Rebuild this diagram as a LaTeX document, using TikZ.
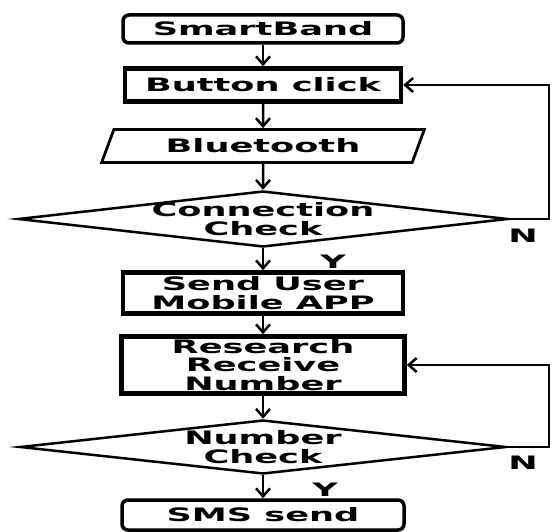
\documentclass[tikz,border=0pt]{standalone}
\usepackage{fontspec}
\usepackage{tikz}
\usetikzlibrary{shapes.geometric}
\usetikzlibrary{arrows.meta}
\newfontface\flowfont{DejaVu Sans Bold}[FakeStretch=1.9]

\tikzset{
	txt/.style={font=\fontsize{18.5}{18.5}\selectfont\flowfont, align=center},
	stepbox/.style={draw, txt, line width=4.5pt, inner sep=0pt},
	endbox/.style={draw, txt, line width=3.5pt, rounded corners=6pt, inner sep=0pt},
	iobox/.style={draw, txt, trapezium, trapezium left angle=61, trapezium right angle=119,
		trapezium stretches=true, line width=2.8pt, inner sep=0pt},
	decision/.style={draw, diamond, line width=2.5pt, inner sep=0pt},
	flow/.style={line width=2.5pt, -{Straight Barb[length=8pt,width=14pt]}},
}

\begin{document}
\begin{tikzpicture}[x=1pt, y=-1pt]
\useasboundingbox (0,0) rectangle (552,532);

% main column
\node[endbox, minimum width=280pt, minimum height=28pt] (smart) at (263,29) {SmartBand};
\node[stepbox, minimum width=276pt, minimum height=33pt] (button) at (263,85) {Button click};
\node[iobox, minimum width=323pt, minimum height=33pt] (blue) at (263,146) {Bluetooth};
\node[decision, minimum width=490pt, minimum height=56pt] (conn) at (263,219) {};
\node[txt] (conntext) at (conn) {Connection\\Check};
\node[stepbox, minimum width=280pt, minimum height=41pt] (send) at (263,293) {Send User\\Mobile APP};
\node[stepbox, minimum width=283pt, minimum height=57pt] (research) at (263,365) {Research\\Receive\\Number};
\node[decision, minimum width=486pt, minimum height=54pt] (num) at (263,447) {};
\node[txt] (numtext) at (num) {Number\\Check};
\node[endbox, minimum width=282pt, minimum height=30pt] (sms) at (263,515) {SMS send};

\draw[flow] (smart.south) -- (button.north);
\draw[flow] (button.south) -- (blue.north);
\draw[flow] (blue.south) -- (conn.north);
\draw[flow] (conn.south) -- (send.north);
\draw[flow] (send.south) -- (research.north);
\draw[flow] (research.south) -- (num.north);
\draw[flow] (num.south) -- (sms.north);

% N branches go back up on the right
\coordinate (rail) at (549,0);
\draw[flow] (conn.east) -- (conn.east -| rail) |- (button.east);
\draw[flow] (num.east) -- (num.east -| rail) |- (research.east);

\node[txt] (yes1) at (333,262) {Y};
\node[txt] (no1) at (523,236) {N};
\node[txt] (yes2) at (325,490) {Y};
\node[txt] (no2) at (523,463) {N};
\end{tikzpicture}
\end{document}
